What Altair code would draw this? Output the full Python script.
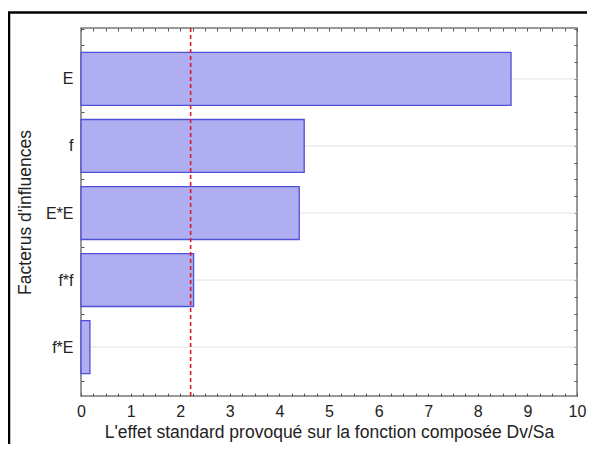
import altair as alt
import pandas as pd

# ---- data ----
factors = ["E", "f", "E*E", "f*f", "f*E"]
effects = [8.67, 4.50, 4.40, 2.27, 0.18]
threshold = [2.21]
x_tick_values = [i / 4 for i in range(41)]          # 0 .. 10 step 0.25
y_tick_values = [i / 4 for i in range(1, 23)]       # 0.25 .. 5.5 step 0.25

FONT = "Liberation Sans"
BAR_HALF = 0.395
W, H = 496, 368
PAD = {"left": 73, "top": 20, "right": 10, "bottom": 48}

df = pd.DataFrame({"factor": factors, "effect": effects,
                   "pos": list(range(1, len(factors) + 1))})
df["lo"] = df["pos"] - BAR_HALF
df["hi"] = df["pos"] + BAR_HALF
thr_df = pd.DataFrame({"t": threshold})

# label expression for y positions -> factor names
expr = "''"
for i in range(len(factors), 0, -1):
    expr = f"datum.value === {i} ? '{factors[i-1]}' : ({expr})"

x_scale = alt.Scale(domain=[0, 10], nice=False, zero=False)
y_scale = alt.Scale(domain=[0.24, 5.73], nice=False, zero=False, reverse=True)

common_tick = dict(domain=False, grid=False, tickSize=3, tickColor="#555",
                   tickWidth=1, offset=-3)

x_bottom = alt.Axis(orient="bottom", values=x_tick_values,
                    labelExpr="datum.value % 1 === 0 ? format(datum.value, 'd') : ''",
                    labelOverlap=False, labelFlush=False, labelBound=False,
                    labelFont=FONT, labelFontSize=16, labelColor="#222",
                    labelPadding=7,
                    title="L'effet standard provoqué sur la fonction composée Dv/Sa",
                    titleFont=FONT, titleFontSize=17.5, titleFontWeight="normal",
                    titleColor="#222", titlePadding=4, **common_tick)
y_left = alt.Axis(orient="left", values=y_tick_values, labelExpr=expr,
                  labelOverlap=False, labelFont=FONT, labelFontSize=16,
                  labelColor="#222", labelPadding=8,
                  title="Facterus d'influences", titleFont=FONT,
                  titleFontSize=17.5, titleFontWeight="normal",
                  titleColor="#222", titlePadding=11, **common_tick)
x_top = alt.Axis(orient="top", values=x_tick_values, labels=False, title=None,
                 **common_tick)
y_right = alt.Axis(orient="right", values=y_tick_values, labels=False,
                   title=None, **common_tick)

base = alt.Chart(df)

grid = base.mark_rule(color="#e2e2e2", strokeWidth=1).encode(
    y=alt.Y("pos:Q", scale=y_scale, axis=None)
)

bars = base.mark_bar(fill="#aeaef0", stroke="#4f4fd8", strokeWidth=1.3).encode(
    x=alt.X("effect:Q", scale=x_scale, axis=x_bottom),
    x2=alt.datum(0),
    y=alt.Y("lo:Q", scale=y_scale, axis=y_left),
    y2="hi:Q",
)

ghost = base.mark_bar(opacity=0).encode(
    x=alt.X("effect:Q", scale=x_scale, axis=x_top),
    x2=alt.datum(0),
    y=alt.Y("lo:Q", scale=y_scale, axis=y_right),
    y2="hi:Q",
)

thr = alt.Chart(thr_df).mark_rule(color="#e0182e", strokeWidth=1.6,
                                  strokeDash=[4, 3]).encode(
    x=alt.X("t:Q", scale=x_scale, axis=None)
)

frame_df = pd.DataFrame({"k": [0]})
frame_left = alt.Chart(frame_df).mark_rule(color="black", strokeWidth=2.5).encode(
    x=alt.value(-72), y=alt.value(-16), y2=alt.value(H + PAD["bottom"])
)
frame_top = alt.Chart(frame_df).mark_rule(color="black", strokeWidth=2.5).encode(
    x=alt.value(-73), x2=alt.value(W + PAD["right"]), y=alt.value(-15.5)
)

chart = alt.layer(grid, bars, thr, ghost, frame_left, frame_top).resolve_axis(
    x="independent", y="independent"
).properties(
    width=W, height=H,
    autosize="none",
    padding=PAD,
    background="white",
).configure_view(stroke="#777", strokeWidth=1.5)

chart.save("out.html", embed_options={"renderer": "svg", "actions": False})
